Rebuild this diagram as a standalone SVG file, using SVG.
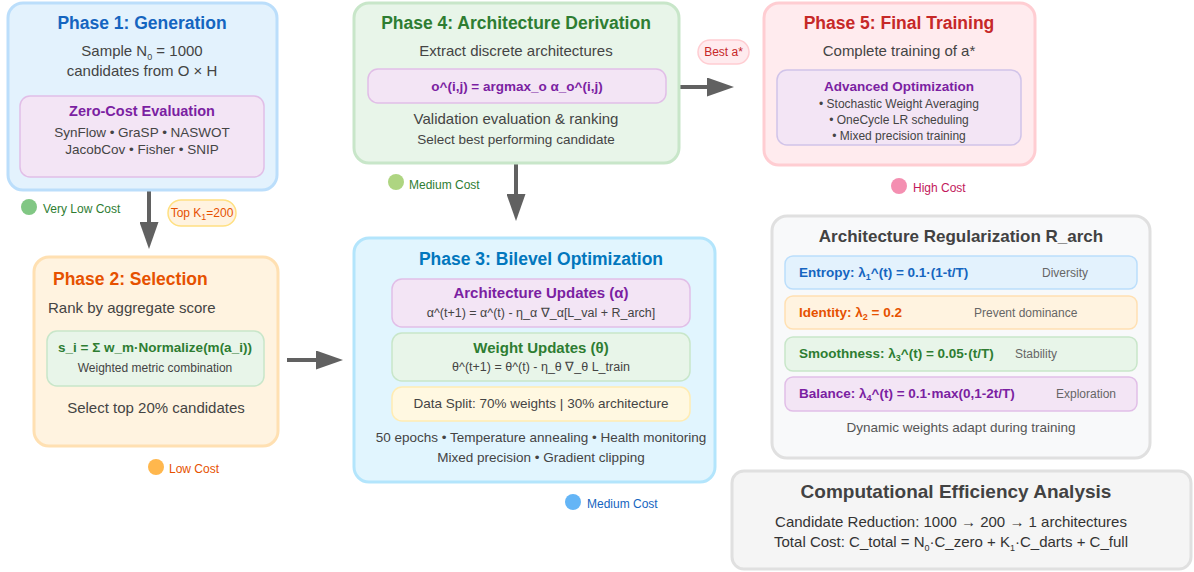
<svg xmlns="http://www.w3.org/2000/svg" width="1194" height="572" viewBox="0 0 1194 572">
<defs>
<marker id="ah" markerUnits="userSpaceOnUse" markerWidth="27" markerHeight="19" viewBox="0 0 27 19" refX="0" refY="9.5" orient="auto">
<path d="M0,0 L27,9.5 L0,19 z" fill="#616161"/>
</marker>
<style>
text{font-family:"Liberation Sans",Arial,sans-serif;fill:#444}
.t{font-size:17.5px;font-weight:bold;text-anchor:middle}
.b{font-size:15px}
.m{text-anchor:middle}
.s{font-size:13.5px}
.x{font-size:12px}
.bb{font-weight:bold}
.box{stroke-width:3}
.in{stroke-width:1.5}
.cost{font-size:12px}
.conn line{stroke:#616161;stroke-width:4}
.sub{font-size:9px}
</style>
</defs>
<rect width="1194" height="572" fill="#fff"/>

<g id="connectors" class="conn">
<line x1="149" y1="191" x2="149" y2="222" marker-end="url(#ah)"/>
<line x1="287" y1="360" x2="316" y2="360" marker-end="url(#ah)"/>
<line x1="516" y1="164" x2="516" y2="194" marker-end="url(#ah)"/>
<line x1="680" y1="87" x2="707" y2="87" marker-end="url(#ah)"/>
</g>

<g id="label-topk">
<rect x="168" y="200" width="68" height="26" rx="13" fill="#fff3e0" stroke="#ffe082" stroke-width="1.5"/>
<text x="202" y="217" class="x m" style="fill:#e65100">Top K<tspan class="sub" dy="3">1</tspan><tspan dy="-3">=200</tspan></text>
</g>
<g id="label-best">
<rect x="698" y="40" width="51" height="24" rx="12" fill="#ffebee" stroke="#ffcdd2" stroke-width="1.5"/>
<text x="723.5" y="56" class="x m" style="fill:#c62828">Best a*</text>
</g>

<g id="phase1">
<rect x="8" y="3" width="269" height="187" rx="15" fill="#e3f2fd" stroke="#bbdefb" class="box"/>
<text x="142" y="29" class="t" style="fill:#1565c0">Phase 1: Generation</text>
<text x="142" y="56" class="b m">Sample N<tspan class="sub" dy="4">0</tspan><tspan dy="-4"> = 1000</tspan></text>
<text x="142" y="76" class="b m">candidates from O × H</text>
<rect x="20" y="96" width="244" height="81" rx="10" fill="#f3e5f5" stroke="#e1bee7" class="in"/>
<text x="142" y="116" class="m bb" style="font-size:14.5px;fill:#7b1fa2">Zero-Cost Evaluation</text>
<text x="142" y="137" class="s m">SynFlow • GraSP • NASWOT</text>
<text x="142" y="154" class="s m">JacobCov • Fisher • SNIP</text>
<circle cx="29" cy="207" r="8" fill="#81c784"/>
<text x="43" y="213" class="cost" style="fill:#2e7d32">Very Low Cost</text>
</g>

<g id="phase2">
<rect x="34" y="257" width="244" height="189" rx="15" fill="#fff3e0" stroke="#ffe0b2" class="box"/>
<text x="53" y="285" class="bb" style="font-size:17.5px;fill:#e65100">Phase 2: Selection</text>
<text x="48" y="313" class="b">Rank by aggregate score</text>
<rect x="47" y="331" width="217" height="55" rx="10" fill="#e8f5e9" stroke="#c8e6c9" class="in"/>
<text x="155" y="352" class="m bb" style="font-size:13.5px;fill:#2e7d32">s_i = Σ w_m·Normalize(m(a_i))</text>
<text x="155" y="372" class="x m">Weighted metric combination</text>
<text x="156" y="413" class="b m">Select top 20% candidates</text>
<circle cx="156" cy="467" r="8" fill="#ffb74d"/>
<text x="169" y="473" class="cost" style="fill:#e65100">Low Cost</text>
</g>

<g id="phase3">
<rect x="354" y="238" width="361" height="244" rx="15" fill="#e1f5fe" stroke="#b3e5fc" class="box"/>
<text x="541" y="265" class="t" style="fill:#0277bd">Phase 3: Bilevel Optimization</text>
<rect x="392" y="279" width="298" height="48" rx="10" fill="#f3e5f5" stroke="#e1bee7" class="in"/>
<text x="541" y="298" class="m bb" style="font-size:15px;fill:#7b1fa2">Architecture Updates (α)</text>
<text x="541" y="317" class="m" style="font-size:12.5px">α^(t+1) = α^(t) - η_α ∇_α[L_val + R_arch]</text>
<rect x="392" y="333" width="298" height="48" rx="10" fill="#e8f5e9" stroke="#c8e6c9" class="in"/>
<text x="541" y="353" class="m bb" style="font-size:15px;fill:#2e7d32">Weight Updates (θ)</text>
<text x="541" y="371" class="m" style="font-size:12.5px">θ^(t+1) = θ^(t) - η_θ ∇_θ L_train</text>
<rect x="392" y="387" width="298" height="34" rx="10" fill="#fff8e1" stroke="#ffecb3" class="in"/>
<text x="541" y="408" class="s m">Data Split: 70% weights | 30% architecture</text>
<text x="541" y="442" class="s m">50 epochs • Temperature annealing • Health monitoring</text>
<text x="541" y="462" class="s m">Mixed precision • Gradient clipping</text>
<circle cx="573" cy="502" r="8" fill="#64b5f6"/>
<text x="587" y="508" class="cost" style="fill:#1565c0">Medium Cost</text>
</g>

<g id="phase4">
<rect x="354" y="3" width="325" height="160" rx="15" fill="#e8f5e9" stroke="#c8e6c9" class="box"/>
<text x="516" y="29" class="t" style="fill:#2e7d32">Phase 4: Architecture Derivation</text>
<text x="516" y="56" class="b m">Extract discrete architectures</text>
<rect x="368" y="69" width="298" height="34" rx="10" fill="#f3e5f5" stroke="#e1bee7" class="in"/>
<text x="517" y="91" class="m bb" style="font-size:13.5px;fill:#7b1fa2">o^(i,j) = argmax_o α_o^(i,j)</text>
<text x="516" y="124" class="b m">Validation evaluation &amp; ranking</text>
<text x="516" y="144" class="s m">Select best performing candidate</text>
<circle cx="396" cy="182" r="8" fill="#aed581"/>
<text x="409" y="189" class="cost" style="fill:#2e7d32">Medium Cost</text>
</g>

<g id="phase5">
<rect x="764" y="3" width="271" height="162" rx="15" fill="#ffebee" stroke="#ffcdd2" class="box"/>
<text x="899" y="29" class="t" style="fill:#c62828">Phase 5: Final Training</text>
<text x="899" y="56" class="b m">Complete training of a*</text>
<rect x="777" y="70" width="244" height="75" rx="10" fill="#f3e5f5" stroke="#d1c4e9" class="in"/>
<text x="899" y="91" class="m bb" style="font-size:13.5px;fill:#7b1fa2">Advanced Optimization</text>
<text x="899" y="108" class="x m">• Stochastic Weight Averaging</text>
<text x="899" y="124" class="x m">• OneCycle LR scheduling</text>
<text x="899" y="140" class="x m">• Mixed precision training</text>
<circle cx="899" cy="186" r="8" fill="#f48fb1"/>
<text x="913" y="192" class="cost" style="fill:#c2185b">High Cost</text>
</g>

<g id="regularization">
<rect x="772" y="216" width="378" height="242" rx="15" fill="#f8f9fa" stroke="#e0e0e0" class="box"/>
<text x="961" y="242" class="t" style="font-size:17px;fill:#424242">Architecture Regularization R_arch</text>
<rect x="785" y="256" width="352" height="33" rx="8" fill="#e3f2fd" stroke="#bbdefb" class="in"/>
<text x="799" y="277" class="bb" style="font-size:13.5px;fill:#1565c0">Entropy: λ<tspan class="sub" dy="3">1</tspan><tspan dy="-3">^(t) = 0.1·(1-t/T)</tspan></text>
<text x="1042" y="277" class="x" style="fill:#666">Diversity</text>
<rect x="785" y="296" width="352" height="33" rx="8" fill="#fff3e0" stroke="#ffe0b2" class="in"/>
<text x="799" y="317" class="bb" style="font-size:13.5px;fill:#e65100">Identity: λ<tspan class="sub" dy="3">2</tspan><tspan dy="-3"> = 0.2</tspan></text>
<text x="974" y="317" class="x" style="fill:#666">Prevent dominance</text>
<rect x="785" y="337" width="352" height="34" rx="8" fill="#e8f5e9" stroke="#c8e6c9" class="in"/>
<text x="799" y="358" class="bb" style="font-size:13.5px;fill:#2e7d32">Smoothness: λ<tspan class="sub" dy="3">3</tspan><tspan dy="-3">^(t) = 0.05·(t/T)</tspan></text>
<text x="1015" y="358" class="x" style="fill:#666">Stability</text>
<rect x="785" y="377" width="352" height="34" rx="8" fill="#f3e5f5" stroke="#e1bee7" class="in"/>
<text x="799" y="398" class="bb" style="font-size:13.5px;fill:#7b1fa2">Balance: λ<tspan class="sub" dy="3">4</tspan><tspan dy="-3">^(t) = 0.1·max(0,1-2t/T)</tspan></text>
<text x="1056" y="398" class="x" style="fill:#666">Exploration</text>
<text x="961" y="432" class="s m" style="fill:#555">Dynamic weights adapt during training</text>
</g>

<g id="efficiency">
<rect x="732" y="471" width="459" height="98" rx="12" fill="#f5f5f5" stroke="#e0e0e0" class="box"/>
<text x="956" y="498" class="t" style="font-size:19px;fill:#424242">Computational Efficiency Analysis</text>
<text x="951" y="527" class="b m" style="fill:#333">Candidate Reduction: 1000 → 200 → 1 architectures</text>
<text x="951" y="547" class="b m" style="fill:#333">Total Cost: C_total = N<tspan class="sub" dy="4">0</tspan><tspan dy="-4">·C_zero + K</tspan><tspan class="sub" dy="4">1</tspan><tspan dy="-4">·C_darts + C_full</tspan></text>
</g>
</svg>
